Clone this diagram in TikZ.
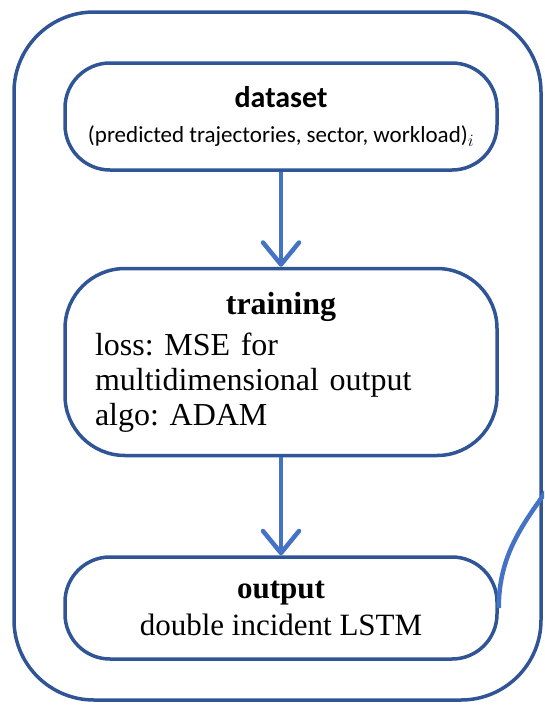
\documentclass[tikz,border=0pt]{standalone}
\usepackage{fontspec}
\setmainfont{Liberation Serif}
\newfontfamily\calib{Carlito}
\frenchspacing
\usepackage{tikz}
\usetikzlibrary{arrows.meta,positioning}
\definecolor{boxblue}{HTML}{2F5597}
\definecolor{arrowblue}{HTML}{4472C4}
\tikzset{%
	stage/.style    = {draw=boxblue, line width=3.5pt, rectangle, minimum width=432pt, text centered},
	frame/.style    = {draw=boxblue, line width=3.5pt, rounded corners=80pt},
	flow/.style     = {draw=arrowblue, line width=4.5pt, -{Straight Barb[length=22pt,width=36pt,round]}},
	link/.style     = {draw=arrowblue, line width=4.5pt},
}
\begin{document}
\begin{tikzpicture}[x=1pt,y=-1pt,node distance=95pt]
		\clip (0,0) rectangle (544,707);
		\draw[frame] (14,12) rectangle (541,700);
		\node [stage, minimum height=107pt, rounded corners=45pt, align=center, font=\calib\fontsize{23}{35}\selectfont] (data) at (281,116.5) {{\fontsize{30}{34}\selectfont\bfseries dataset}\\(predicted trajectories, sector, workload)$_i$};
		\node [stage, minimum height=187pt, rounded corners=60pt, text width=372pt, align=left, font=\fontsize{32}{35}\selectfont] (train) [below=of data] {\makebox[\linewidth]{\bfseries training}\\[6pt]loss: MSE for\\multidimensional output\\algo: ADAM};
		\node [stage, minimum height=102pt, rounded corners=45pt, align=center, font=\fontsize{31}{37}\selectfont] (out) [below=98pt of train] {{\bfseries output}\\double incident LSTM};
		\coordinate (next) at (576,446);
		\draw[flow] (data) -- (train);
		\draw[flow] (train) -- (out);
		\draw[link] (out.east) to[out=90,in=-120] (next);
		\end{tikzpicture}
\end{document}
